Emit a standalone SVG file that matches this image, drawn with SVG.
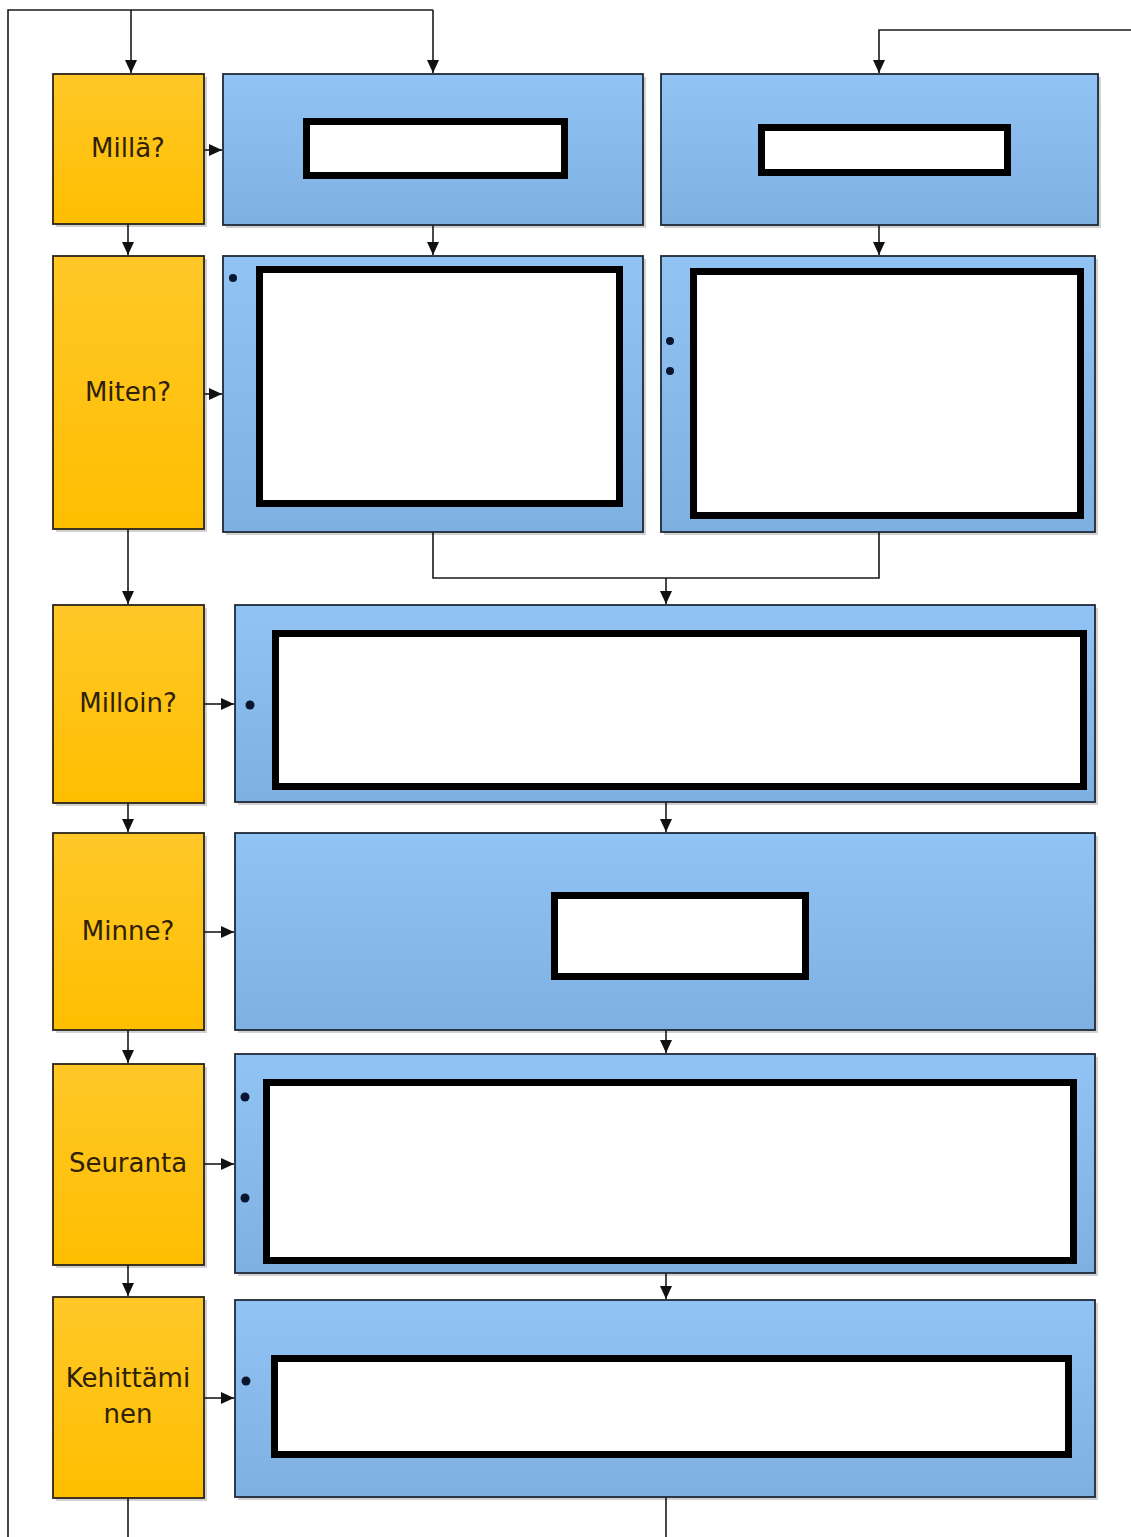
<svg xmlns="http://www.w3.org/2000/svg" width="1131" height="1537" viewBox="0 0 1131 1537">
<defs>
<linearGradient id="og" x1="0" y1="0" x2="0" y2="1"><stop offset="0" stop-color="#FFC828"/><stop offset="1" stop-color="#FFBE00"/></linearGradient>
<linearGradient id="bg" x1="0" y1="0" x2="0" y2="1"><stop offset="0" stop-color="#91C4F4"/><stop offset="1" stop-color="#7EB1E1"/></linearGradient>
<marker id="ah" markerWidth="14" markerHeight="14" refX="13" refY="7" orient="auto" markerUnits="userSpaceOnUse"><path d="M0,1 L13,7 L0,13 Z" fill="#111"/></marker>
</defs>
<style>
.o{fill:url(#og);stroke:#2a2418;stroke-width:1.8}
.b{fill:url(#bg);stroke:#1e2a36;stroke-width:1.8}
.sh{fill:#000;opacity:0.18}
.w{fill:#fff;stroke:#000;stroke-width:7}
.t{font-family:"DejaVu Sans",Verdana,sans-serif;font-size:26px;fill:#2e2106;text-anchor:middle}
.c{fill:none;stroke:#1a1a1a;stroke-width:1.6}
.a{fill:none;stroke:#1a1a1a;stroke-width:1.6;marker-end:url(#ah)}
.d{fill:#0a1530}
</style>
<rect width="1131" height="1537" fill="#fff"/>

<g id="connectors">
<path class="c" d="M8,1537 V10 H433"/>
<path class="a" d="M131,10 V73"/>
<path class="a" d="M433,10 V73"/>
<path class="a" d="M1131,30 H879 V73"/>
<path class="a" d="M204,150 H222"/>
<path class="a" d="M204,394 H222"/>
<path class="a" d="M204,704 H234"/>
<path class="a" d="M204,932 H234"/>
<path class="a" d="M204,1164 H234"/>
<path class="a" d="M204,1398 H234"/>
<path class="a" d="M128,224 V255"/>
<path class="a" d="M128,529 V604"/>
<path class="a" d="M128,803 V832"/>
<path class="a" d="M128,1030 V1063"/>
<path class="a" d="M128,1265 V1296"/>
<path class="c" d="M128,1498 V1537"/>
<path class="a" d="M433,225 V255"/>
<path class="a" d="M879,225 V255"/>
<path class="c" d="M433,532 V578 H879 V532"/>
<path class="a" d="M666,578 V604"/>
<path class="a" d="M666,802 V832"/>
<path class="a" d="M666,1030 V1053"/>
<path class="a" d="M666,1273 V1299"/>
<path class="c" d="M666,1497 V1537"/>
</g>

<g id="n-milla"><rect class="sh" x="56" y="77" width="151" height="150"/><rect class="o" x="53" y="74" width="151" height="150"/><text class="t" x="128" y="157">Millä?</text></g>
<g id="n-miten"><rect class="sh" x="56" y="259" width="151" height="273"/><rect class="o" x="53" y="256" width="151" height="273"/><text class="t" x="128" y="401">Miten?</text></g>
<g id="n-milloin"><rect class="sh" x="56" y="608" width="151" height="198"/><rect class="o" x="53" y="605" width="151" height="198"/><text class="t" x="128" y="712">Milloin?</text></g>
<g id="n-minne"><rect class="sh" x="56" y="836" width="151" height="197"/><rect class="o" x="53" y="833" width="151" height="197"/><text class="t" x="128" y="940">Minne?</text></g>
<g id="n-seuranta"><rect class="sh" x="56" y="1067" width="151" height="201"/><rect class="o" x="53" y="1064" width="151" height="201"/><text class="t" x="128" y="1172">Seuranta</text></g>
<g id="n-kehittaminen"><rect class="sh" x="56" y="1300" width="151" height="201"/><rect class="o" x="53" y="1297" width="151" height="201"/><text class="t" x="128" y="1387">Kehittämi</text><text class="t" x="128" y="1423">nen</text></g>

<g id="b1l"><rect class="sh" x="226" y="77" width="420" height="151"/><rect class="b" x="223" y="74" width="420" height="151"/><rect class="w" x="306.5" y="121.5" width="258" height="54"/></g>
<g id="b1r"><rect class="sh" x="664" y="77" width="437" height="151"/><rect class="b" x="661" y="74" width="437" height="151"/><rect class="w" x="761.5" y="127.5" width="246" height="45"/></g>
<g id="b2l"><rect class="sh" x="226" y="259" width="420" height="276"/><rect class="b" x="223" y="256" width="420" height="276"/><rect class="w" x="259.5" y="269.5" width="360" height="234"/><circle class="d" cx="233" cy="278" r="4"/></g>
<g id="b2r"><rect class="sh" x="664" y="259" width="434" height="276"/><rect class="b" x="661" y="256" width="434" height="276"/><rect class="w" x="693.5" y="271.5" width="387" height="244"/><circle class="d" cx="670" cy="341" r="4"/><circle class="d" cx="670" cy="371" r="4"/></g>
<g id="b3"><rect class="sh" x="238" y="608" width="860" height="197"/><rect class="b" x="235" y="605" width="860" height="197"/><rect class="w" x="275.5" y="633.5" width="808" height="153"/><circle class="d" cx="250" cy="705" r="4.5"/></g>
<g id="b4"><rect class="sh" x="238" y="836" width="860" height="197"/><rect class="b" x="235" y="833" width="860" height="197"/><rect class="w" x="554.5" y="895.5" width="251" height="81"/></g>
<g id="b5"><rect class="sh" x="238" y="1057" width="860" height="219"/><rect class="b" x="235" y="1054" width="860" height="219"/><rect class="w" x="266.5" y="1082.5" width="807" height="178"/><circle class="d" cx="245" cy="1097" r="4.5"/><circle class="d" cx="245" cy="1198" r="4.5"/></g>
<g id="b6"><rect class="sh" x="238" y="1303" width="860" height="197"/><rect class="b" x="235" y="1300" width="860" height="197"/><rect class="w" x="274.5" y="1358.5" width="794" height="96"/><circle class="d" cx="246" cy="1381" r="4.5"/></g>
</svg>
